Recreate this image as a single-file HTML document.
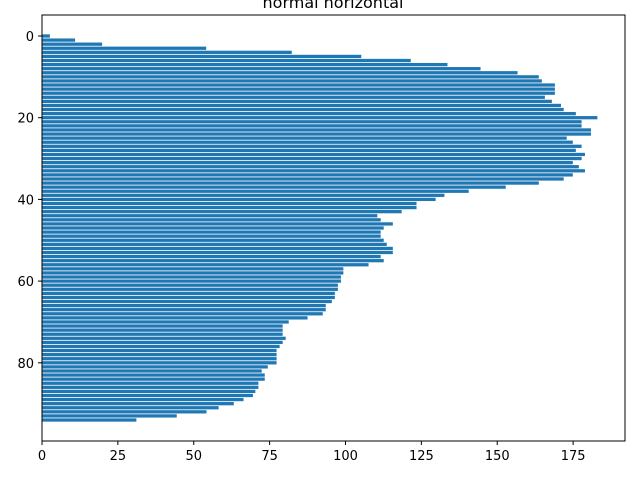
<!DOCTYPE html>
<html><head><meta charset="utf-8"><style>
body{margin:0;background:#fff;}
svg text{font-family:"DejaVu Sans","Liberation Sans",sans-serif;}
</style></head><body>
<svg id="chart" width="640" height="480" xmlns="http://www.w3.org/2000/svg">
<rect width="640" height="480" fill="#fff"/>
<text x="333" y="8" text-anchor="middle" font-size="16" fill="#000">normal horizontal</text>
<g id="bars"></g>
<g id="axes"></g>
</svg>
<script>
const values = [2.6,10.9,19.8,54.1,82.3,105.2,121.5,133.6,144.5,156.7,163.7,164.7,169,169,169,165.7,168,171,171.9,175.9,
183,177.8,177.8,180.9,180.9,172.9,174.9,177.8,175.9,178.9,177.8,174.9,176.9,178.9,174.9,171.9,163.7,152.8,140.6,132.6,
129.7,123.4,123.4,118.5,110.5,111.6,115.6,112.6,111.6,111.6,112.6,113.6,115.6,115.6,111.6,112.6,107.6,99.3,99.3,98.5,
98.5,97.5,97.5,96.5,96.5,95.5,93.5,93.5,92.5,87.5,81.3,79.3,79.3,79.3,80.3,79.3,78.3,77.3,77.3,77.3,
77.3,74.4,72.4,73.4,73.4,71.3,71.3,70.3,69.5,66.4,63.2,58.2,54.2,44.4,31.1];
const xTicks = [0,25,50,75,100,125,150,175];
const yTicks = [0,20,40,60,80];
const L=42,T=15,R=625,B=441;
const xMin=0,xMax=192.1,yMin=-5.14,yMax=99.14;
function sx(v){return L+(v-xMin)/(xMax-xMin)*(R-L);}
function sy(v){return T+(v-yMin)/(yMax-yMin)*(B-T);}
const NS="http://www.w3.org/2000/svg";
const bars=document.getElementById('bars');
values.forEach((v,i)=>{
  const r=document.createElementNS(NS,'rect');
  r.setAttribute('x',sx(0));
  r.setAttribute('y',sy(i-0.4));
  r.setAttribute('width',sx(v)-sx(0));
  r.setAttribute('height',sy(i+0.4)-sy(i-0.4));
  r.setAttribute('fill','#1f77b4');
  
  
  bars.appendChild(r);
});
const ax=document.getElementById('axes');
const frame=document.createElementNS(NS,'rect');
frame.setAttribute('x',L);frame.setAttribute('y',T);
frame.setAttribute('width',R-L);frame.setAttribute('height',B-T);
frame.setAttribute('fill','none');frame.setAttribute('stroke','#000');frame.setAttribute('stroke-width','1');


ax.appendChild(frame);
xTicks.forEach(t=>{
  const x=sx(t);
  const l=document.createElementNS(NS,'line');
  l.setAttribute('x1',x);l.setAttribute('x2',x);l.setAttribute('y1',B);l.setAttribute('y2',B+4);
  l.setAttribute('stroke','#000');
  
  
  ax.appendChild(l);
  const tx=document.createElementNS(NS,'text');
  tx.setAttribute('x',x);tx.setAttribute('y',B+19);tx.setAttribute('text-anchor','middle');tx.setAttribute('font-size','13');
  tx.textContent=t;
  
  
  ax.appendChild(tx);
});
yTicks.forEach(t=>{
  const y=sy(t);
  const l=document.createElementNS(NS,'line');
  l.setAttribute('x1',L-4);l.setAttribute('x2',L);l.setAttribute('y1',y);l.setAttribute('y2',y);
  l.setAttribute('stroke','#000');
  
  
  ax.appendChild(l);
  const tx=document.createElementNS(NS,'text');
  tx.setAttribute('x',L-8);tx.setAttribute('y',y+5);tx.setAttribute('text-anchor','end');tx.setAttribute('font-size','13');
  tx.textContent=t;
  
  
  ax.appendChild(tx);
});
</script>
</body></html>
